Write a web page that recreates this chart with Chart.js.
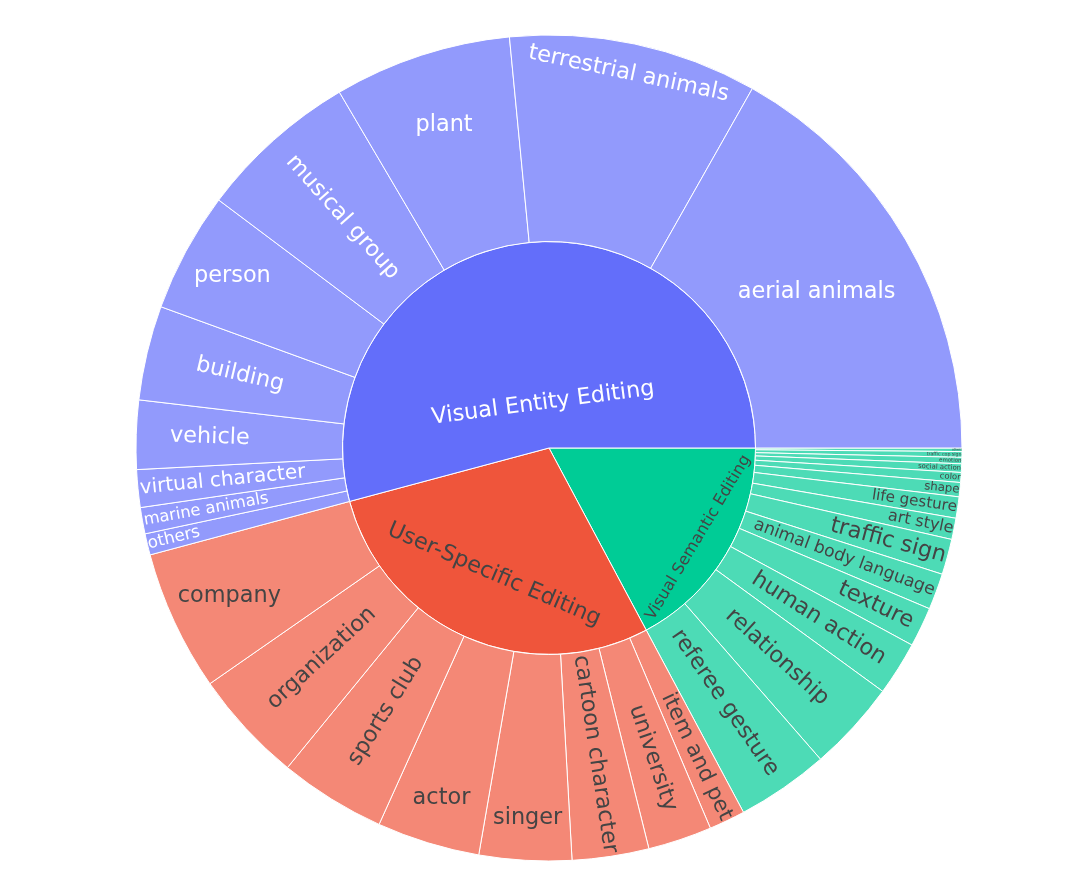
<!DOCTYPE html>
<html>
<head>
<meta charset="utf-8">
<script src="https://cdn.jsdelivr.net/npm/chart.js@4.4.1/dist/chart.umd.min.js"></script>
<style>
  body { margin: 0; background: #fff; }
  #sunburst { display: block; }
</style>
</head>
<body>
<canvas id="sunburst" width="1080" height="893"></canvas>
<script>
// groups (inner ring), in order counterclockwise from 3 o'clock
const groupLabels = ['Visual Entity Editing', 'User-Specific Editing', 'Visual Semantic Editing'];
const groupColors = ['#636efa', '#ef553b', '#00cc96'];
const leafColors = ['#929afc', '#f48876', '#4ddbb6'];
const textColors = ['#ffffff', '#444444', '#444444'];

const entityLabels = ['aerial animals', 'terrestrial animals', 'plant', 'musical group', 'person',
    'building', 'vehicle', 'virtual character', 'marine animals', 'others'];
const entityValues = [605, 350, 250, 226, 169, 133, 97, 53, 37, 30];

const userLabels = ['company', 'organization', 'sports club', 'actor', 'singer',
    'cartoon character', 'university', 'item and pet'];
const userValues = [198, 159, 150, 145, 130, 108, 90, 51];

const semanticLabels = ['referee gesture', 'relationship', 'human action', 'texture',
    'animal body language', 'traffic sign', 'art style', 'life gesture', 'shape', 'color',
    'social action', 'emotion', 'traffic cop sign', 'others'];
const semanticValues = [130, 128, 76, 56, 51, 50, 30, 30, 20, 14, 12, 9, 8, 5];

const childLabels = [entityLabels, userLabels, semanticLabels];
const childValues = [entityValues, userValues, semanticValues];

const FONT_SIZE = 22.4;
const TEXTPAD = 4.2;

// chart.js draws clockwise, the sunburst goes counterclockwise -> reverse everything
const outerNames = [], outerData = [], outerBg = [], outerText = [];
const innerNames = [], innerData = [], innerBg = [], innerText = [];
for (let g = groupLabels.length - 1; g >= 0; g--) {
    innerNames.push(groupLabels[g]);
    innerData.push(childValues[g].reduce((a, b) => a + b, 0));
    innerBg.push(groupColors[g]);
    innerText.push(textColors[g]);
    for (let i = childLabels[g].length - 1; i >= 0; i--) {
        outerNames.push(childLabels[g][i]);
        outerData.push(childValues[g][i]);
        outerBg.push(leafColors[g]);
        outerText.push(textColors[g]);
    }
}

function calcRotate(t) {
    return (180 / Math.PI * t + 720) % 180 - 90;
}

function calcMaxHalfSize(a, halfAngle, r, ring) {
    const q = a + 1 / (2 * Math.tan(halfAngle));
    return r * Math.min(
        1 / (Math.sqrt(q * q + 0.5) + q),
        ring / (Math.sqrt(a * a + ring / 2) + a)
    );
}

// same idea as plotly's "auto" inside text orientation
function placeText(w, h, r, ring, halfAngle, midAngle) {
    const rIns = Math.max(0, Math.min(1 / (1 + 1 / Math.sin(halfAngle)), ring / 2));
    const diam = Math.sqrt(w * w + h * h);
    const hor = { scale: rIns * r * 2 / diam, rCenter: 1 - rIns, rotate: 0 };
    if (hor.scale >= 1) return hor;

    const rr = Math.max(0, r - 2 * TEXTPAD);
    let a = w / h;
    let s = calcMaxHalfSize(a, halfAngle, rr, ring);
    const rad = { scale: s * 2 / h, rCenter: Math.cos(s / rr) - a * s / rr, rotate: calcRotate(midAngle) };

    a = h / w;
    s = calcMaxHalfSize(a, halfAngle, rr, ring);
    const tan = { scale: s * 2 / w, rCenter: Math.cos(s / rr) - a * s / rr, rotate: calcRotate(midAngle + Math.PI / 2) };

    let best = hor;
    [rad, tan].forEach(t => { if (t.scale > best.scale) best = t; });
    return best;
}

const sunburstText = {
    id: 'sunburstText',
    afterDatasetsDraw(chart) {
        const ctx = chart.ctx;
        chart.data.datasets.forEach((ds, di) => {
            const meta = chart.getDatasetMeta(di);
            meta.data.forEach((arc, i) => {
                const p = arc.getProps(['x', 'y', 'startAngle', 'endAngle', 'innerRadius', 'outerRadius'], true);
                const name = ds.names[i];
                ctx.save();
                ctx.font = FONT_SIZE + 'px "DejaVu Sans"';
                const w = ctx.measureText(name).width;
                const h = FONT_SIZE * 1.1;
                let half = 0.5 * Math.min(p.endAngle - p.startAngle, Math.PI);
                const mid = (p.startAngle + p.endAngle) / 2;
                const ring = 1 - p.innerRadius / p.outerRadius;
                // plotly measures angles clockwise from the top
                const t = placeText(w, h, p.outerRadius, ring, half, mid + Math.PI / 2);
                const scale = Math.min(1, t.scale);
                const rc = t.rCenter * p.outerRadius;
                ctx.translate(p.x + rc * Math.cos(mid), p.y + rc * Math.sin(mid));
                ctx.rotate(t.rotate * Math.PI / 180);
                ctx.font = (FONT_SIZE * scale) + 'px "DejaVu Sans"';
                ctx.fillStyle = ds.textColors[i];
                ctx.textAlign = 'center';
                ctx.textBaseline = 'middle';
                ctx.fillText(name, 0, 0);
                ctx.restore();
            });
        });
    }
};

const ctx = document.getElementById('sunburst');

new Chart(ctx, {
    type: 'doughnut',
    data: {
        labels: outerNames,
        datasets: [
            {
                data: outerData,
                names: outerNames,
                backgroundColor: outerBg,
                textColors: outerText
            },
            {
                data: innerData,
                names: innerNames,
                backgroundColor: innerBg,
                textColors: innerText
            }
        ]
    },
    options: {
        responsive: false,
        animation: false,
        rotation: 90,
        cutout: 0,
        borderWidth: 1,
        borderColor: '#ffffff',
        hoverOffset: 0,
        layout: {
            padding: { left: 135.5, top: 34.5, right: 117.5, bottom: 31.5 }
        },
        plugins: {
            legend: { display: false },
            tooltip: { enabled: false }
        }
    },
    plugins: [sunburstText]
});
</script>
</body>
</html>
